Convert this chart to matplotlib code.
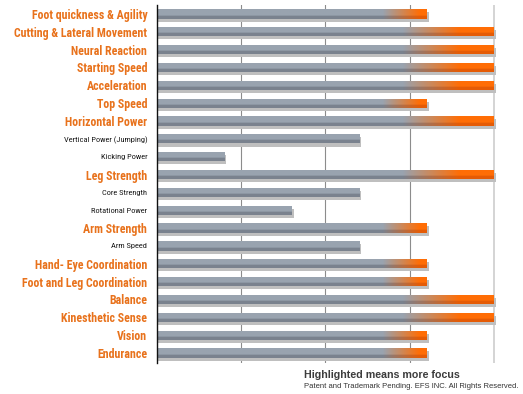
import numpy as np
import matplotlib
matplotlib.use("Agg")
import matplotlib.pyplot as plt
from matplotlib import font_manager as fm

labels = ["Foot quickness & Agility", "Cutting & Lateral Movement", "Neural Reaction",
          "Starting Speed", "Acceleration", "Top Speed", "Horizontal Power",
          "Vertical Power (Jumping)", "Kicking Power", "Leg Strength", "Core Strength",
          "Rotational Power", "Arm Strength", "Arm Speed", "Hand- Eye Coordination",
          "Foot and Leg Coordination", "Balance", "Kinesthetic Sense", "Vision", "Endurance"]
values = [8, 10, 10, 10, 10, 8, 10, 6, 2, 10, 6, 4, 8, 6, 8, 8, 10, 10, 8, 8]
highlighted = [1, 1, 1, 1, 1, 1, 1, 0, 0, 1, 0, 0, 1, 0, 1, 1, 1, 1, 1, 1]
grid_ticks = [2.5, 5, 7.5, 10]


def pick(cands, minw):
    have = {}
    for f in fm.fontManager.ttflist:
        w = f.weight if isinstance(f.weight, int) else 400
        have.setdefault(f.name, set()).add(w)
    for c in cands:
        if c in have and any(w >= minw for w in have[c]):
            return c
    return "Liberation Sans"


bold_font = pick(["Roboto Condensed", "Fira Sans Condensed", "Barlow Condensed"], 700)
reg_font = pick(["Roboto Condensed", "Archivo Narrow", "Fira Sans Condensed"], 400)
sans = pick(["Liberation Sans"], 400)

fig = plt.figure(figsize=(5.23, 3.94), dpi=100)
ax = fig.add_axes([157 / 523, 1 - 363 / 394, (504 - 157) / 523, 358 / 394])
n = len(labels)
y = np.arange(n)
ax.set_xlim(0, 10.3)
ax.set_ylim(n - 0.44, -0.5)

for g in grid_ticks[:-1]:
    ax.axvline(g, color="#8c8c8c", lw=0.8, zorder=0)
ax.axvline(grid_ticks[-1], color="#d4d4d4", lw=1.4, zorder=0)

bh = 0.52
ax.barh(y + 0.17, [v + 0.06 for v in values], height=bh, left=0,
        color="#bfbfbf", zorder=1, linewidth=0)
bars = ax.barh(y, values, height=bh, left=0, color="#959ca5", zorder=2, linewidth=0)

gray_top = np.array([0.60, 0.64, 0.69])
gray_bot = np.array([0.48, 0.51, 0.56])
or_top = np.array([1.0, 0.43, 0.02])
or_bot = np.array([0.90, 0.36, 0.02])
M, N = 12, 300
rowsel = np.linspace(0, 1, M)
shade = np.where(rowsel < 0.68, 0.0, 1.0)[:, None, None]
for bar, v, h in zip(bars, values, highlighted):
    x0, yb, w, hh = bar.get_x(), bar.get_y(), bar.get_width(), bar.get_height()
    xs = np.linspace(0, v, N)
    if h:
        s = v - 1.3 - 0.7 * (v - 8)
        e = v - 0.2 - 0.4 * (v - 8)
        t = np.clip((xs - s) / (e - s), 0, 1)
    else:
        t = np.zeros(N)
    t = t[None, :, None]
    top = gray_top * (1 - t) + or_top * t
    bot = gray_bot * (1 - t) + or_bot * t
    img = top * (1 - shade) + bot * shade
    im = ax.imshow(img, extent=[x0, x0 + w, yb + hh, yb], aspect="auto",
                   interpolation="bilinear", zorder=3)
    im.set_clip_path(bar)

ax.set_yticks(y)
ax.set_yticklabels(labels)
ax.tick_params(axis="y", length=0, pad=7)
ax.tick_params(axis="x", length=0, labelbottom=False)
for lab, h in zip(ax.get_yticklabels(), highlighted):
    if h:
        lab.set_fontfamily(bold_font)
        lab.set_fontweight("bold")
        lab.set_fontsize(8.6)
        lab.set_color("#e8721c")
    else:
        lab.set_fontfamily(reg_font)
        lab.set_fontsize(6.0)
        lab.set_color("#1a1a1a")

for sp in ["top", "right", "bottom"]:
    ax.spines[sp].set_visible(False)
ax.spines["left"].set_color("#111111")
ax.spines["left"].set_linewidth(1.0)
ax.spines["left"].set_zorder(5)

fig.text(304 / 523, 1 - 375 / 394, "Highlighted means more focus", fontsize=7.7,
         fontweight="bold", color="#3c3c3c", family=sans, va="center", ha="left")
fig.text(304 / 523, 1 - 386 / 394,
         "Patent and Trademark Pending. EFS INC. All Rights Reserved.",
         fontsize=5.5, color="#333333", family=sans, va="center", ha="left")

fig.savefig("out.png", dpi=100)
